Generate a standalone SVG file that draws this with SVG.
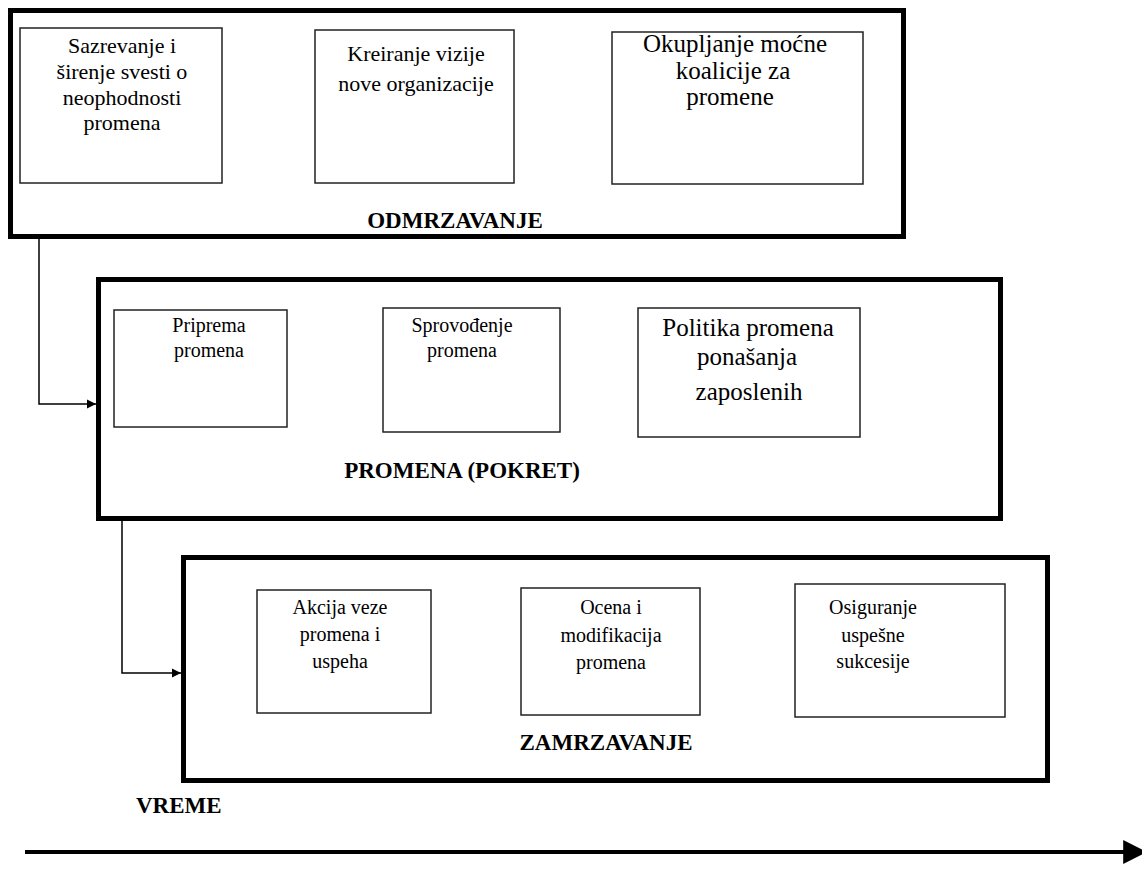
<svg xmlns="http://www.w3.org/2000/svg" width="1142" height="870" viewBox="0 0 1142 870">
  <style>
    .phase { fill: #ffffff; stroke: #000000; stroke-width: 5; }
    .step { fill: #ffffff; stroke: #222222; stroke-width: 1.5; }
    .txt { font-family: "Liberation Serif", "Times New Roman", serif; font-size: 20px; fill: #000000; text-anchor: middle; }
    .big { font-size: 25px; }
    .mid { font-size: 22px; }
    .title { font-family: "Liberation Serif", "Times New Roman", serif; font-size: 23px; font-weight: bold; fill: #000000; text-anchor: middle; }
    .conn { fill: none; stroke: #000000; stroke-width: 1.5; }
    .time { fill: none; stroke: #000000; stroke-width: 4; }
  </style>
  <defs>
    <marker id="arrow" viewBox="0 0 10 10" refX="10" refY="5" markerWidth="9" markerHeight="10" markerUnits="userSpaceOnUse" orient="auto">
      <path d="M0,0 L10,5 L0,10 Z" fill="#000000"/>
    </marker>
    <marker id="arrowBig" viewBox="0 0 10 10" refX="2" refY="5" markerWidth="6" markerHeight="8" orient="auto">
      <path d="M0,0 L10,5 L0,10 Z" fill="#000000"/>
    </marker>
  </defs>

  <!-- Phase 1: unfreezing -->
  <g id="odmrzavanje">
    <rect class="phase" x="10.5" y="10.5" width="893" height="226"/>
    <g id="sazrevanje">
      <rect class="step" x="20" y="28" width="202" height="155"/>
      <text class="txt mid" x="122" y="53">Sazrevanje i</text>
      <text class="txt mid" x="122" y="79">širenje svesti o</text>
      <text class="txt mid" x="122" y="105">neophodnosti</text>
      <text class="txt mid" x="122" y="130">promena</text>
    </g>
    <g id="kreiranje">
      <rect class="step" x="315" y="30" width="199" height="153"/>
      <text class="txt mid" x="416" y="61">Kreiranje vizije</text>
      <text class="txt mid" x="416" y="91">nove organizacije</text>
    </g>
    <g id="okupljanje">
      <rect class="step" x="612" y="32" width="251" height="152"/>
      <text class="txt big" x="735" y="52">Okupljanje moćne</text>
      <text class="txt big" x="733" y="79">koalicije za</text>
      <text class="txt big" x="730" y="105">promene</text>
    </g>
    <text class="title" x="455" y="228">ODMRZAVANJE</text>
  </g>

  <!-- Phase 2: change (movement) -->
  <g id="promena">
    <rect class="phase" x="98.5" y="279.5" width="902" height="239"/>
    <g id="priprema">
      <rect class="step" x="114" y="310" width="173" height="117"/>
      <text class="txt" x="209" y="332">Priprema</text>
      <text class="txt" x="209" y="357">promena</text>
    </g>
    <g id="sprovodjenje">
      <rect class="step" x="383" y="308" width="177" height="124"/>
      <text class="txt" x="462" y="332">Sprovođenje</text>
      <text class="txt" x="462" y="357">promena</text>
    </g>
    <g id="politika">
      <rect class="step" x="638" y="308" width="222" height="129"/>
      <text class="txt big" x="748" y="336">Politika promena</text>
      <text class="txt big" x="747" y="365">ponašanja</text>
      <text class="txt big" x="749" y="400">zaposlenih</text>
    </g>
    <text class="title" x="462" y="478">PROMENA (POKRET)</text>
  </g>

  <!-- Phase 3: refreezing -->
  <g id="zamrzavanje">
    <rect class="phase" x="183.5" y="557.5" width="864" height="223"/>
    <g id="akcija">
      <rect class="step" x="257" y="590" width="174" height="123"/>
      <text class="txt" x="340" y="614">Akcija veze</text>
      <text class="txt" x="340" y="641">promena i</text>
      <text class="txt" x="340" y="668">uspeha</text>
    </g>
    <g id="ocena">
      <rect class="step" x="521" y="588" width="179" height="127"/>
      <text class="txt" x="611" y="614">Ocena i</text>
      <text class="txt" x="611" y="642">modifikacija</text>
      <text class="txt" x="611" y="669">promena</text>
    </g>
    <g id="osiguranje">
      <rect class="step" x="795" y="584" width="210" height="133"/>
      <text class="txt" x="873" y="614">Osiguranje</text>
      <text class="txt" x="873" y="642">uspešne</text>
      <text class="txt" x="873" y="668">sukcesije</text>
    </g>
    <text class="title" x="606" y="750">ZAMRZAVANJE</text>
  </g>

  <!-- Connectors between phases -->
  <g id="connectors">
    <path class="conn" d="M39,238 V404 H96" marker-end="url(#arrow)"/>
    <path class="conn" d="M122,520 V673 H181" marker-end="url(#arrow)"/>
  </g>

  <!-- Time axis -->
  <g id="vreme">
    <text x="136" y="813" font-family="Liberation Serif, Times New Roman, serif" font-size="23" font-weight="bold">VREME</text>
    <path class="time" d="M25,852 H1128" marker-end="url(#arrowBig)"/>
  </g>
</svg>
